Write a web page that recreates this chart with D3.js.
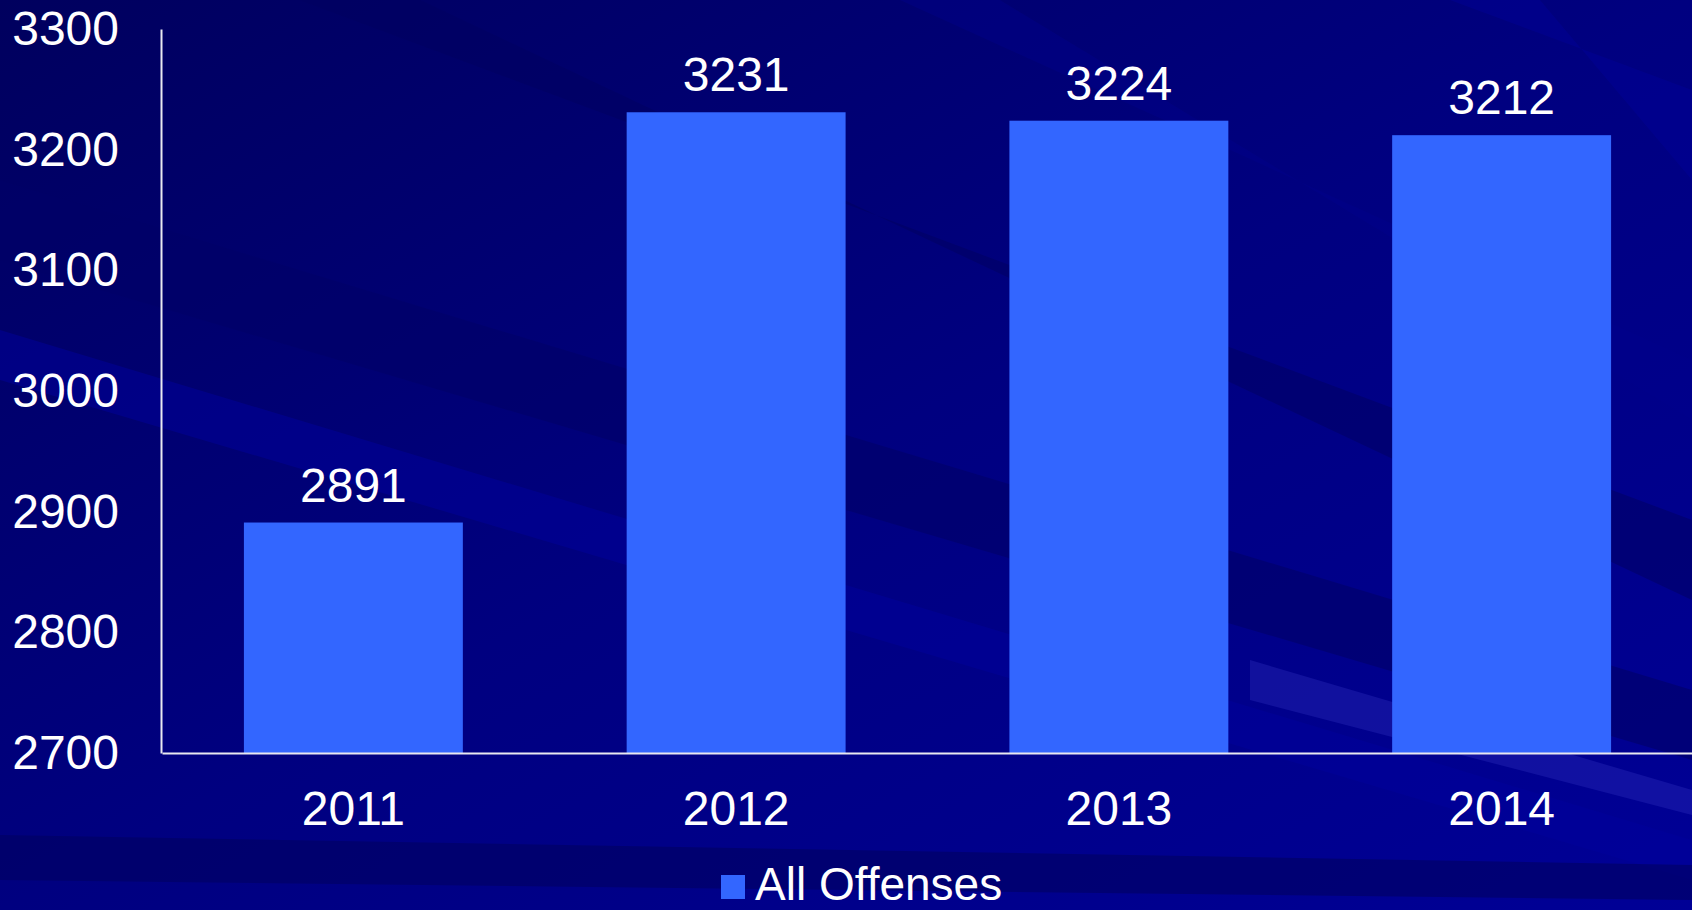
<!DOCTYPE html>
<html><head><meta charset="utf-8">
<script src="https://cdn.jsdelivr.net/npm/d3@7"></script>
<style>html,body{margin:0;padding:0;overflow:hidden;background:#000080;}svg{display:block;}</style>
</head><body>
<script>
const categories = ["2011", "2012", "2013", "2014"];
const values = [2891, 3231, 3224, 3212];
const yTicks = [2700, 2800, 2900, 3000, 3100, 3200, 3300];
const seriesName = "All Offenses";

const W = 1692, H = 910;
const svg = d3.select("body").append("svg").attr("width", W).attr("height", H);

// background
const defs = svg.append("defs");
const bg = defs.append("linearGradient").attr("id","bg").attr("x1","0").attr("y1","0").attr("x2","1").attr("y2","1");
bg.append("stop").attr("offset","0").attr("stop-color","#00005e");
bg.append("stop").attr("offset","0.5").attr("stop-color","#000080");
bg.append("stop").attr("offset","1").attr("stop-color","#000096");
svg.append("rect").attr("width",W).attr("height",H).attr("fill","url(#bg)");
const streaks = [
  {pts:[[0,180],[0,260],[1692,760],[1692,690]], c:"#000068", o:0.6},
  {pts:[[0,330],[0,380],[1692,880],[1692,840]], c:"#00009c", o:0.5},
  {pts:[[300,0],[420,0],[1692,600],[1692,520]], c:"#000060", o:0.5},
  {pts:[[900,0],[1000,0],[1692,420],[1692,360]], c:"#00008c", o:0.4},
  {pts:[[1250,660],[1250,700],[1692,815],[1692,790]], c:"#3030c0", o:0.35},
  {pts:[[0,835],[0,880],[1692,900],[1692,865]], c:"#000060", o:0.6},
  {pts:[[1450,0],[1540,0],[1692,180],[1692,90]], c:"#00009a", o:0.4}
];
svg.append("g").selectAll("polygon").data(streaks).join("polygon")
  .attr("points", d => d.pts.map(p => p.join(",")).join(" "))
  .attr("fill", d => d.c).attr("opacity", d => d.o);

const margin = {left:161, right:0, top:29, bottom:157};
const x = d3.scaleBand().domain(categories).range([margin.left + 1, W + 1]).paddingInner(0.428).paddingOuter(0.214);
const y = d3.scaleLinear().domain([2700, 3300]).range([H - margin.bottom, margin.top]);

const font = "'Liberation Sans', Arial, sans-serif";

svg.append("g").selectAll("rect").data(values).join("rect")
  .attr("x", (d,i) => x(categories[i]))
  .attr("y", d => y(d))
  .attr("width", x.bandwidth())
  .attr("height", d => y(2700) - y(d))
  .attr("fill", "#3366ff");

svg.append("g").selectAll("text").data(values).join("text")
  .attr("x", (d,i) => x(categories[i]) + x.bandwidth()/2)
  .attr("y", d => y(d) - 21)
  .attr("text-anchor","middle")
  .attr("fill","#fff").attr("font-family",font).attr("font-size",48)
  .text(d => d);

// y axis
const yAxis = d3.axisLeft(y).tickValues(yTicks).tickSize(0).tickPadding(42).tickFormat(d3.format("d"));
const gy = svg.append("g").attr("transform",`translate(${margin.left},0)`).call(yAxis);
gy.select(".domain").attr("stroke","#e8e8f0").attr("stroke-width",2);
gy.selectAll("text").attr("fill","#fff").attr("font-family",font).attr("font-size",48);

// x axis
const xAxis = d3.axisBottom(x).tickSize(0).tickPadding(38);
const gx = svg.append("g").attr("transform",`translate(0,${y(2700)})`).call(xAxis);
gx.select(".domain").attr("stroke","#e8e8f0").attr("stroke-width",2);
gx.selectAll("text").attr("fill","#fff").attr("font-family",font).attr("font-size",48);

// legend
const lg = svg.append("g");
lg.append("rect").attr("x",721).attr("y",875).attr("width",24).attr("height",24).attr("fill","#3366ff");
lg.append("text").attr("x",755).attr("y",900).attr("fill","#fff").attr("font-family",font).attr("font-size",46).text(seriesName);
</script>
</body></html>
